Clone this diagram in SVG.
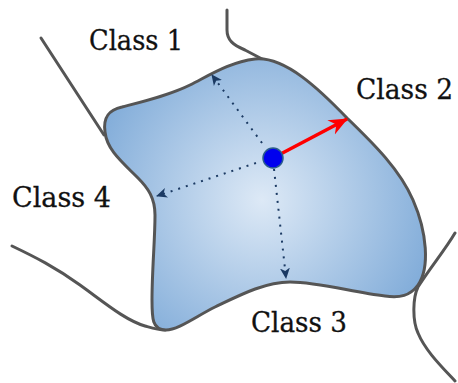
<svg xmlns="http://www.w3.org/2000/svg" width="458" height="383" viewBox="0 0 458 383">
<defs>
<radialGradient id="g" gradientUnits="userSpaceOnUse" cx="262" cy="200" r="185">
<stop offset="0" stop-color="#dde9f6"/>
<stop offset="1" stop-color="#7eaad8"/>
</radialGradient>
<marker id="da" markerUnits="userSpaceOnUse" markerWidth="12" markerHeight="12" viewBox="0 0 12 12" refX="10" refY="6" orient="auto">
<path d="M0,1 L11,6 L0,11 L3,6 Z" fill="#1b3a63"/>
</marker>
<marker id="ra" markerUnits="userSpaceOnUse" markerWidth="20" markerHeight="20" viewBox="0 0 20 20" refX="18" refY="10" orient="auto">
<path d="M0,2 L19,10 L0,18 L6,10 Z" fill="#ff0000"/>
</marker>
<style>
.b{fill:none;stroke:#555;stroke-width:3;stroke-linecap:round}
.d{fill:none;stroke:#1b3a63;stroke-width:2;stroke-dasharray:2 6}
.t{font-family:"DejaVu Serif","Liberation Serif",serif;font-size:28px;fill:#111;stroke:#111;stroke-width:0.3}
</style>
</defs>
<g id="boundaries">
<path class="b" d="M41,38 L104,135"/>
<path class="b" d="M227,10 L227,30 C227,40 233,45 245,50 L264,60"/>
<path class="b" d="M12,246 C35,257 55,267 80,285 C105,303 125,320 145,326 C152,328 158,330 165,330"/>
<path class="b" d="M455,233 C445,250 430,268 418,287 C413,297 412,320 418,333 C425,350 440,365 455,381"/>
</g>
<g id="region">
<path d="M105,132 C103,118 108,110 122,107 C145,101 170,95 190,85 C210,75 230,62 255,59 C285,56 320,90 347,118 C375,145 400,170 413,200 C427,232 430,268 418,285 C410,296 400,298 385,296 C355,293 320,282 290,282 C265,282 240,295 215,307 C195,317 178,330 166,330 C152,330 152,318 152,300 C152,270 155,240 155,215 C155,198 148,188 138,178 C122,162 107,150 105,132 Z" fill="url(#g)" stroke="#555" stroke-width="3"/>
</g>
<g id="connectors">
<path class="d" d="M262,143 L212,75" marker-end="url(#da)"/>
<path class="d" d="M256,163 L157,196" marker-end="url(#da)"/>
<path class="d" d="M274,169 L286,278" marker-end="url(#da)"/>
<path d="M273,158 L347,119" stroke="#ff0000" stroke-width="3.5" fill="none" marker-end="url(#ra)"/>
</g>
<g id="point">
<circle cx="273" cy="158" r="10" fill="#0000ee" stroke="#2b5d8c" stroke-width="1.5"/>
</g>
<g id="labels">
<text class="t" x="89" y="50" textLength="94" lengthAdjust="spacingAndGlyphs">Class 1</text>
<text class="t" x="356" y="99" textLength="97" lengthAdjust="spacingAndGlyphs">Class 2</text>
<text class="t" x="251" y="332" textLength="96" lengthAdjust="spacingAndGlyphs">Class 3</text>
<text class="t" x="12" y="207" textLength="99" lengthAdjust="spacingAndGlyphs">Class 4</text>
</g>
</svg>
